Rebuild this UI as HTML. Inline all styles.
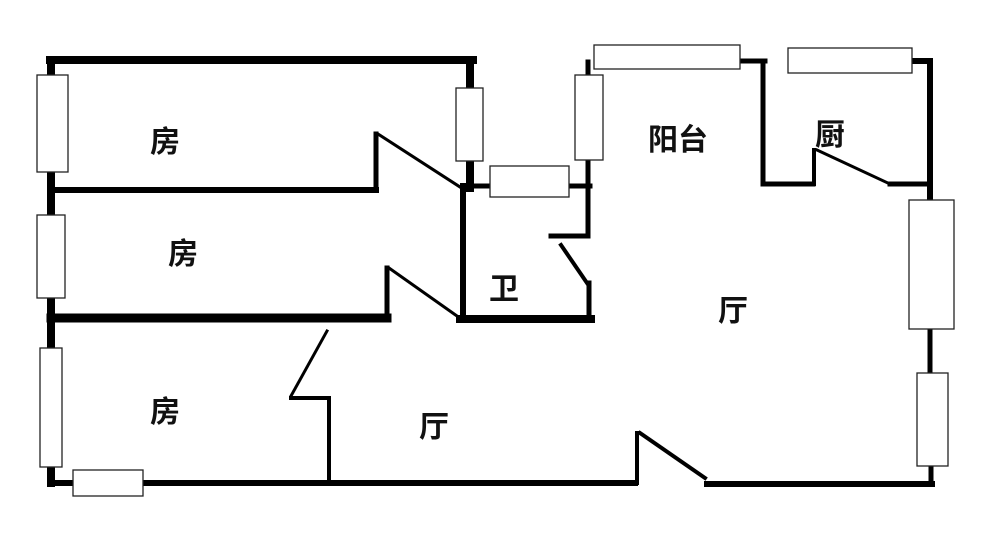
<!DOCTYPE html>
<html><head><meta charset="utf-8"><style>
html,body{margin:0;padding:0;background:#fff;}
svg{display:block;}
text{font-family:"Liberation Sans","Noto Sans CJK SC",sans-serif;font-weight:bold;font-size:30px;fill:#111;}
</style></head><body>
<svg width="1000" height="538" viewBox="0 0 1000 538" xmlns="http://www.w3.org/2000/svg">
<g stroke="#000" stroke-linecap="square" fill="none">
  <!-- outer left/top -->
  <line x1="50" y1="60" x2="473" y2="60" stroke-width="8"/>
  <line x1="51" y1="60" x2="51" y2="483" stroke-width="8"/>
  <line x1="470" y1="60" x2="470" y2="188" stroke-width="8"/>
  <!-- room1 bottom -->
  <line x1="51" y1="190" x2="376" y2="190" stroke-width="6"/>
  <line x1="376" y1="190" x2="376" y2="134" stroke-width="5"/>
  <line x1="378" y1="134" x2="460" y2="187" stroke-width="3"/>
  <!-- room2 bottom -->
  <line x1="51" y1="318" x2="387" y2="318" stroke-width="9"/>
  <line x1="387" y1="318" x2="387" y2="268" stroke-width="5"/>
  <line x1="389" y1="268" x2="457" y2="316" stroke-width="3"/>
  <!-- bathroom -->
  <line x1="463" y1="186" x2="463" y2="320" stroke-width="6"/>
  <line x1="460" y1="319" x2="591" y2="319" stroke-width="8"/>
  <line x1="465" y1="186" x2="490" y2="186" stroke-width="5"/>
  <line x1="569" y1="186" x2="590" y2="186" stroke-width="5"/>
  <line x1="588" y1="160" x2="588" y2="236" stroke-width="5"/>
  <line x1="551" y1="236" x2="588" y2="236" stroke-width="5"/>
  <line x1="561" y1="245" x2="587" y2="283" stroke-width="4"/>
  <line x1="589" y1="283" x2="589" y2="319" stroke-width="5"/>
  <line x1="588" y1="62" x2="588" y2="75" stroke-width="5"/>
  <!-- top walls -->
  <line x1="740" y1="61" x2="765" y2="61" stroke-width="5"/>
  <line x1="763" y1="61" x2="763" y2="184" stroke-width="5"/>
  <line x1="763" y1="184" x2="813" y2="184" stroke-width="5"/>
  <line x1="814" y1="184" x2="814" y2="150" stroke-width="4"/>
  <line x1="817" y1="150" x2="890" y2="184" stroke-width="3"/>
  <line x1="890" y1="184" x2="928" y2="184" stroke-width="5"/>
  <line x1="912" y1="61" x2="930" y2="61" stroke-width="6"/>
  <line x1="930" y1="61" x2="930" y2="200" stroke-width="6"/>
  <line x1="930" y1="329" x2="930" y2="373" stroke-width="5"/>
  <line x1="931" y1="466" x2="931" y2="483" stroke-width="5"/>
  <!-- bottom -->
  <line x1="51" y1="483" x2="73" y2="483" stroke-width="6"/>
  <line x1="143" y1="483" x2="635" y2="483" stroke-width="6"/>
  <line x1="707" y1="484" x2="932" y2="484" stroke-width="6"/>
  <line x1="637" y1="433" x2="637" y2="483" stroke-width="4"/>
  <line x1="640" y1="433" x2="705" y2="478" stroke-width="4"/>
  <!-- room3 right -->
  <line x1="329" y1="398" x2="329" y2="483" stroke-width="4"/>
  <line x1="291" y1="398" x2="329" y2="398" stroke-width="4"/>
  <line x1="291" y1="396" x2="327" y2="331" stroke-width="3"/>
</g>
<g fill="#fff" stroke="#222" stroke-width="1.3">
  <rect x="37" y="75" width="31" height="97"/>
  <rect x="37" y="215" width="28" height="83"/>
  <rect x="40" y="348" width="22" height="119"/>
  <rect x="73" y="470" width="70" height="26"/>
  <rect x="456" y="88" width="27" height="73"/>
  <rect x="490" y="166" width="79" height="31"/>
  <rect x="575" y="75" width="28" height="85"/>
  <rect x="594" y="45" width="146" height="24"/>
  <rect x="788" y="48" width="124" height="25"/>
  <rect x="909" y="200" width="45" height="129"/>
  <rect x="917" y="373" width="31" height="93"/>
</g>
<text x="150" y="152">房</text>
<text x="168" y="264">房</text>
<text x="150" y="422">房</text>
<text x="419" y="437">厅</text>
<text x="718" y="321">厅</text>
<text x="648" y="150">阳台</text>
<text x="815" y="145">厨</text>
<text x="489" y="299">卫</text>
</svg>
</body></html>
